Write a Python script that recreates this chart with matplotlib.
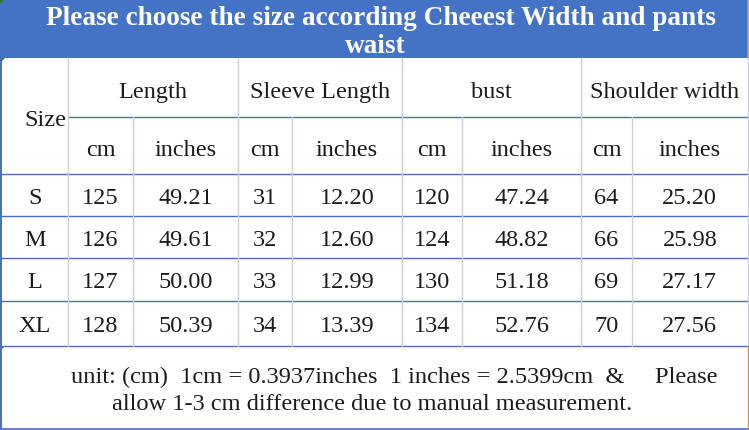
import matplotlib
matplotlib.use("Agg")
import matplotlib.pyplot as plt
from matplotlib.patches import Rectangle, Polygon

# ---- data ----
title_lines = ["Please choose the size according Cheeest Width and pants", "waist"]
groups = ["Length", "Sleeve Length", "bust", "Shoulder width"]
units = ["cm", "inches"]
sizes = ["S", "M", "L", "XL"]
length_cm = ["125", "126", "127", "128"]
length_in = ["49.21", "49.61", "50.00", "50.39"]
sleeve_cm = ["31", "32", "33", "34"]
sleeve_in = ["12.20", "12.60", "12.99", "13.39"]
bust_cm = ["120", "124", "130", "134"]
bust_in = ["47.24", "48.82", "51.18", "52.76"]
shoulder_cm = ["64", "66", "69", "70"]
shoulder_in = ["25.20", "25.98", "27.17", "27.56"]
note_lines = ["unit: (cm)  1cm = 0.3937inches  1 inches = 2.5399cm  &     Please",
              "allow 1-3 cm difference due to manual measurement."]

W, H = 749, 431
fig = plt.figure(figsize=(W / 100, H / 100), dpi=100)
ax = fig.add_axes([0, 0, 1, 1])
ax.set_xlim(0, W)
ax.set_ylim(H, 0)
ax.axis("off")

FONT = "Liberation Serif"
BLUE = "#4472C4"
LINE_BLUE = "#4E6DB4"
GRAY = "#CDD0D8"
TXT = "#1c1c1c"

# layout
xs = [0.5, 68, 133, 238, 292, 402, 462, 581, 632, 747.5]
y_title_bot = 59
y_h1 = 118
y_h2 = 175
row_y = [175, 217, 259, 302, 347]
y_bot = 430

# title band
ax.add_patch(Rectangle((0, 0), 747.5, y_title_bot, facecolor=BLUE, edgecolor="none"))
ax.plot([748, 748], [0, y_title_bot], color="#E08A4A", lw=1.2)

renderer = fig.canvas.get_renderer()


def fit_text(s, xc, y, target_w, **kw):
    t = ax.text(xc, y, s, ha="center", va="baseline", fontsize=16, family=FONT, **kw)
    bb = t.get_window_extent(renderer=renderer)
    t.set_fontsize(16 * target_w / bb.width)
    return t


t1 = fit_text(title_lines[0], 381, 25, 672, color="white", fontweight="bold")
ax.text(375, 53, title_lines[1], ha="center", va="baseline", color="white",
        fontweight="bold", family=FONT, fontsize=t1.get_fontsize())

# grid lines
ax.plot([xs[1], xs[-1]], [y_h1, y_h1], color=LINE_BLUE, lw=1.0)
for y in row_y:
    ax.plot([0, xs[-1]], [y, y], color=LINE_BLUE, lw=1.0)
ax.plot([0, xs[-1]], [y_bot, y_bot], color=LINE_BLUE, lw=1.2)
ax.plot([0.7, 0.7], [y_title_bot, y_bot], color=LINE_BLUE, lw=1.4)
ax.plot([xs[-1], xs[-1]], [y_title_bot, row_y[-1]], color=GRAY, lw=1.0)
ax.plot([xs[-1], xs[-1]], [row_y[-1], y_bot], color="#E08A4A", lw=1.0)
for i in [1, 3, 5, 7]:
    ax.plot([xs[i], xs[i]], [y_title_bot, row_y[-1]], color=GRAY, lw=1.0)
for i in [2, 4, 6, 8]:
    ax.plot([xs[i], xs[i]], [y_h1, row_y[-1]], color=GRAY, lw=1.0)

# small green corner marks
for y0 in [0, y_title_bot, row_y[-1]]:
    ax.add_patch(Polygon([[0, y0], [5, y0], [0, y0 + 5]], closed=True,
                         facecolor="#2E7D32", edgecolor="none"))

FS = 17.5
kw = dict(ha="center", va="baseline", family=FONT, fontsize=FS, color=TXT)

ax.text(45.5, 126.5, "Size", **kw)
for g, name in enumerate(groups):
    xc = (xs[1 + 2 * g] + xs[3 + 2 * g]) / 2
    ax.text(xc, 98.5, name, **kw)
    for u in range(2):
        xu = (xs[1 + 2 * g + u] + xs[2 + 2 * g + u]) / 2
        ax.text(xu, 156, units[u], **kw)

cols = [sizes, length_cm, length_in, sleeve_cm, sleeve_in,
        bust_cm, bust_in, shoulder_cm, shoulder_in]
for r in range(len(sizes)):
    yb = (row_y[r] + row_y[r + 1]) / 2 + 8
    for c, col in enumerate(cols):
        xc = (xs[c] + xs[c + 1]) / 2
        if c == 0:
            xc = 35
        ax.text(xc, yb, col[r], **kw)

n1 = fit_text(note_lines[0], 394, 383, 648, color=TXT)
ax.text(372.5, 410, note_lines[1], ha="center", va="baseline", family=FONT,
        fontsize=n1.get_fontsize(), color=TXT)

fig.savefig("out.png", dpi=100)
